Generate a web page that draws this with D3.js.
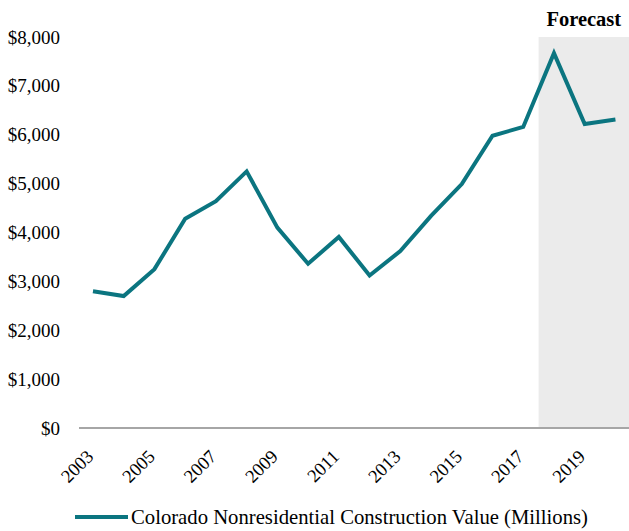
<!DOCTYPE html>
<html>
<head>
<meta charset="utf-8">
<script src="https://cdn.jsdelivr.net/npm/d3@7"></script>
<style>
  html, body { margin: 0; padding: 0; background: #fff; }
  svg text { font-family: "Liberation Serif", "Times New Roman", serif; fill: #000; }
</style>
</head>
<body>
<svg id="chart" width="629" height="531"></svg>
<script>
// Colorado nonresidential construction value, millions of dollars
const years = ["2003","2004","2005","2006","2007","2008","2009","2010","2011","2012",
               "2013","2014","2015","2016","2017","2018","2019","2020"];
const values = [2800, 2700, 3250, 4280, 4640, 5250, 4100, 3360, 3910, 3120,
                3620, 4340, 4990, 5980, 6160, 7670, 6220, 6310];
const yTicks = [0, 1000, 2000, 3000, 4000, 5000, 6000, 7000, 8000];
const xTickLabels = ["2003","2005","2007","2009","2011","2013","2015","2017","2019"];
const forecastYears = ["2018","2019","2020"];
const seriesName = "Colorado Nonresidential Construction Value (Millions)";

const svg = d3.select("#chart");
const W = 629;
const plotTop = 37;
const plotBottom = 428;

const x = d3.scaleBand().domain(years).range([77.6, 630.8]);
const y = d3.scaleLinear().domain([0, 8000]).range([plotBottom, plotTop]);

const teal = "#0B7580";

// shaded forecast band
const fStart = x(forecastYears[0]);
svg.append("rect")
  .attr("x", fStart)
  .attr("y", y(8000))
  .attr("width", W - fStart)
  .attr("height", y(0) - y(8000))
  .attr("fill", "#EBEBEB");

svg.append("text")
  .attr("x", (fStart + W) / 2)
  .attr("y", 26)
  .attr("text-anchor", "middle")
  .style("font-weight", "bold")
  .style("font-size", "20.5px")
  .text("Forecast");

// y axis labels (no axis line)
const yAxis = d3.axisLeft(y).tickValues(yTicks).tickSize(0).tickPadding(0)
  .tickFormat(d => "$" + d3.format(",")(d));
svg.append("g")
  .attr("transform", "translate(60,0)")
  .call(yAxis)
  .call(g => g.select(".domain").remove())
  .call(g => g.selectAll("text")
    .style("font-size", "19px")
    .style("font-family", "Liberation Serif, serif")
    .attr("fill", "#000"));

// baseline
svg.append("line")
  .attr("x1", 79).attr("x2", W)
  .attr("y1", y(0)).attr("y2", y(0))
  .attr("stroke", "#A6A6A6").attr("stroke-width", 2);

// x axis labels, rotated
const xAxis = d3.axisBottom(x).tickValues(xTickLabels).tickSize(0).tickPadding(0);
svg.append("g")
  .attr("transform", `translate(0,${plotBottom})`)
  .call(xAxis)
  .call(g => g.select(".domain").remove())
  .call(g => g.selectAll("text")
    .style("font-size", "18.5px")
    .style("font-family", "Liberation Serif, serif")
    .attr("fill", "#000")
    .attr("text-anchor", "end")
    .attr("dy", "0.35em")
    .attr("transform", "translate(-3,25) rotate(-45)"));

// series line
const line = d3.line()
  .x((d, i) => x(years[i]) + x.bandwidth() / 2)
  .y(d => y(d));
svg.append("path")
  .datum(values)
  .attr("d", line)
  .attr("fill", "none")
  .attr("stroke", teal)
  .attr("stroke-width", 4)
  .attr("stroke-linejoin", "miter");

// legend
const legend = svg.append("g").attr("transform", "translate(75,517)");
legend.append("line")
  .attr("x1", 0).attr("x2", 53)
  .attr("y1", 0).attr("y2", 0)
  .attr("stroke", teal).attr("stroke-width", 4);
legend.append("text")
  .attr("x", 56)
  .attr("y", 0)
  .attr("dy", "0.35em")
  .style("font-size", "20.7px")
  .text(seriesName);
</script>
</body>
</html>
